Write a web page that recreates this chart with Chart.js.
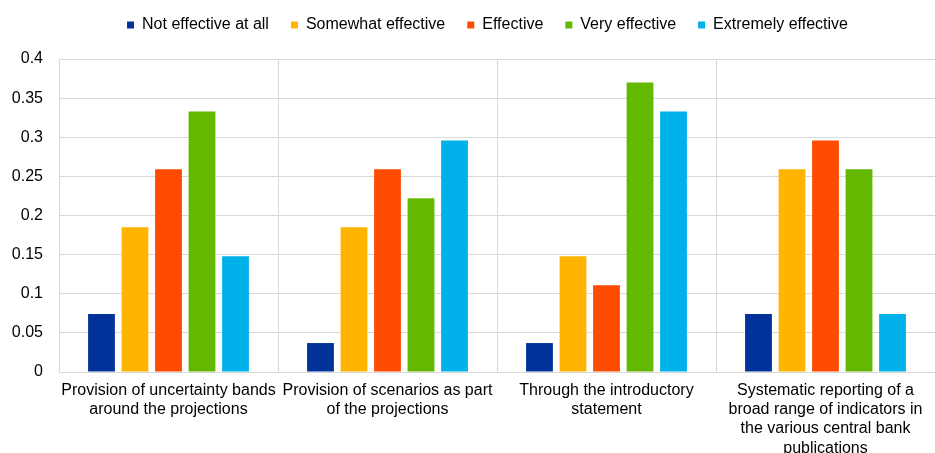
<!DOCTYPE html>
<html>
<head>
<meta charset="utf-8">
<script src="https://cdn.jsdelivr.net/npm/chart.js@4/dist/chart.umd.min.js"></script>
<style>
html,body{margin:0;padding:0;background:#fff;}
#wrap{width:935px;height:453px;position:relative;}
</style>
</head>
<body>
<div id="wrap"><canvas id="c" width="935" height="453"></canvas></div>
<script>
const categories = [
  ["Provision of uncertainty bands", "around the projections"],
  ["Provision of scenarios as part", "of the projections"],
  ["Through the introductory", "statement"],
  ["Systematic reporting of a", "broad range of indicators in", "the various central bank", "publications"]
];
const seriesNames = ["Not effective at all", "Somewhat effective", "Effective", "Very effective", "Extremely effective"];
const notEffective = [0.074, 0.037, 0.037, 0.074];
const somewhatEffective = [0.185, 0.185, 0.148, 0.259];
const effective = [0.259, 0.259, 0.111, 0.296];
const veryEffective = [0.333, 0.222, 0.370, 0.259];
const extremelyEffective = [0.148, 0.296, 0.333, 0.074];
const yTicks = [0, 0.05, 0.1, 0.15, 0.2, 0.25, 0.3, 0.35, 0.4];
const colors = ["#003299", "#FFB400", "#FF4B00", "#65B800", "#00B1EA"];

const seriesValues = [notEffective, somewhatEffective, effective, veryEffective, extremelyEffective];
const font = {family: "'Liberation Sans', Arial, sans-serif", size: 16};

const shiftLegend = {
  id: 'shiftLegend',
  afterLayout(chart) {
    if (chart.legend) { chart.legend.left += 20; chart.legend.right += 20; }
  }
};

new Chart(document.getElementById('c'), {
  type: 'bar',
  data: {
    labels: categories,
    datasets: seriesNames.map((n, i) => ({
      label: n,
      data: seriesValues[i],
      backgroundColor: colors[i],
      borderWidth: 0,
      categoryPercentage: 0.765,
      barPercentage: 0.8
    }))
  },
  plugins: [shiftLegend],
  options: {
    responsive: false,
    animation: false,
    layout: {padding: {top: -5, right: 0, left: 0, bottom: 0}},
    plugins: {
      legend: {
        position: 'top',
        weight: 3000,
        labels: {boxWidth: 7, boxHeight: 7, color: '#000', font: font, padding: 22}
      },
      title: {
        display: true,
        text: '',
        font: {size: 10},
        padding: {top: 0, bottom: 4}
      },
      tooltip: {enabled: false}
    },
    scales: {
      x: {
        grid: {offset: true, color: '#d9d9d9', lineWidth: 1, drawTicks: false},
        border: {color: '#d9d9d9'},
        ticks: {color: '#000', font: font, maxRotation: 0, autoSkip: false, padding: 9},
        afterFit: s => { s.height = 81; }
      },
      y: {
        min: 0, max: 0.4,
        afterBuildTicks: s => { s.ticks = yTicks.map(v => ({value: v})); },
        grid: {color: '#d9d9d9', drawTicks: false},
        border: {color: '#d9d9d9'},
        ticks: {color: '#000', font: font, padding: 16, callback: v => String(v)},
        afterFit: s => { s.width = 59; }
      }
    }
  }
});
</script>
</body>
</html>
